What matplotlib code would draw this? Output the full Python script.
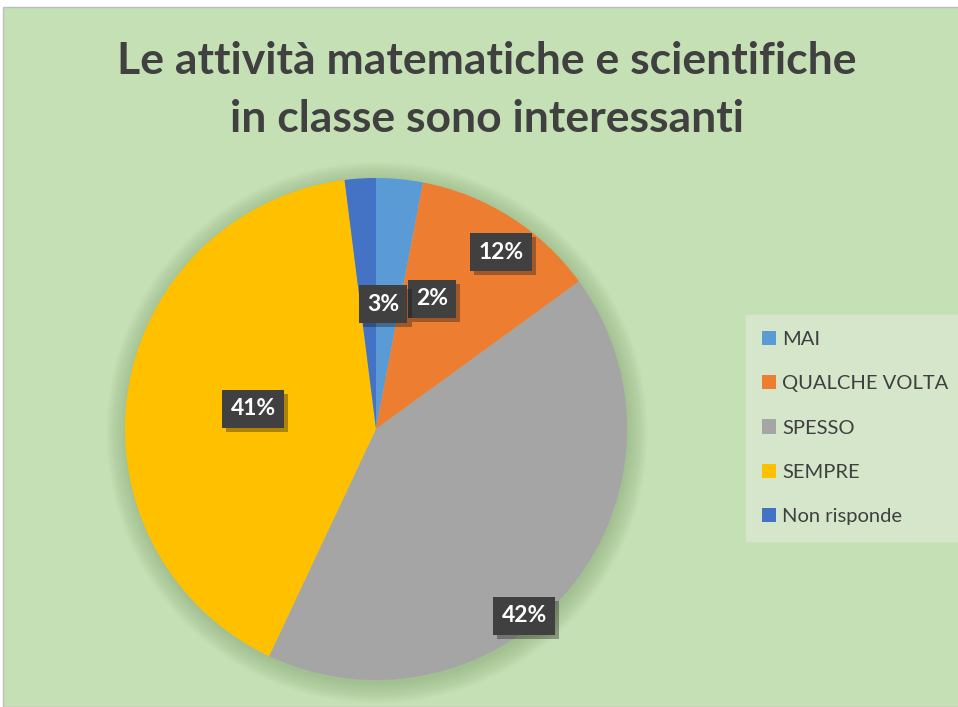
import matplotlib
matplotlib.use("Agg")
import matplotlib.pyplot as plt
import matplotlib.patheffects as pe
from matplotlib.patches import Rectangle, Circle

categorie = ["MAI", "QUALCHE VOLTA", "SPESSO", "SEMPRE", "Non risponde"]
percentuali = [3, 12, 42, 41, 2]
colori = ["#5B9BD5", "#ED7D31", "#A5A5A5", "#FFC000", "#4472C4"]
etichette = ["3%", "12%", "42%", "41%", "2%"]
# label positions (Excel "best fit" placement), in pie radius units
pos_etichette = [(0.028, 0.498), (0.498, 0.705), (0.59, -0.745), (-0.49, 0.08), (0.223, 0.518)]

titolo = "Le attività matematiche e scientifiche\nin classe sono interessanti"

plt.rcParams['font.family'] = ['Lato', 'DejaVu Sans']

fig = plt.figure(figsize=(9.58, 7.07), dpi=100, facecolor="white")
fig.patches.append(Rectangle((3 / 958, 0), 1, 1 - 7 / 707, transform=fig.transFigure,
                             facecolor="#C5E0B4", edgecolor="#BDBDBD", lw=1, zorder=-5))

ax = fig.add_axes([125 / 958, 27 / 707, 502 / 958, 502 / 707])
ax.axis("off")

# soft shadow around the pie
for i in range(14):
    ax.add_patch(Circle((0.004, -0.014), 1 + 0.006 * i, facecolor="#5f7f50", alpha=0.022,
                        edgecolor="none", zorder=0, clip_on=False))

wedges, _ = ax.pie(percentuali, colors=colori, startangle=90, counterclock=False,
                   radius=1, wedgeprops=dict(linewidth=0))
ax.set_xlim(-1, 1)
ax.set_ylim(-1, 1)
ax.set_aspect("equal")

ordine = [4, 0, 1, 2, 3]
for i in ordine:
    x, y = pos_etichette[i]
    t = ax.text(x, y, etichette[i], ha="center", va="center", fontsize=16.5, fontweight="bold",
                color="white", zorder=5,
                bbox=dict(boxstyle="square,pad=0.36", facecolor="#404040", edgecolor="none"))
    t.get_bbox_patch().set_path_effects([pe.SimplePatchShadow(offset=(3, -3), alpha=0.35),
                                         pe.Normal()])

fig.text(487 / 958, 1 - 90 / 707, titolo, ha="center", va="center", fontsize=32,
         fontweight="bold", color="#404040", linespacing=1.55)

leg = fig.legend(wedges, categorie, loc="center left", bbox_to_anchor=(746 / 958, 1 - 428 / 707),
                 fontsize=14.5, frameon=True, fancybox=False, labelspacing=1.34,
                 handlelength=0.7, handleheight=0.7, handletextpad=0.3, borderpad=0.8,
                 borderaxespad=0)
leg.get_frame().set_facecolor("#D5E6CB")
leg.get_frame().set_edgecolor("#D5E6CB")
leg.get_frame().set_alpha(1)
for t in leg.get_texts():
    t.set_color("#404040")

fig.savefig("out.png", dpi=100, facecolor=fig.get_facecolor())
